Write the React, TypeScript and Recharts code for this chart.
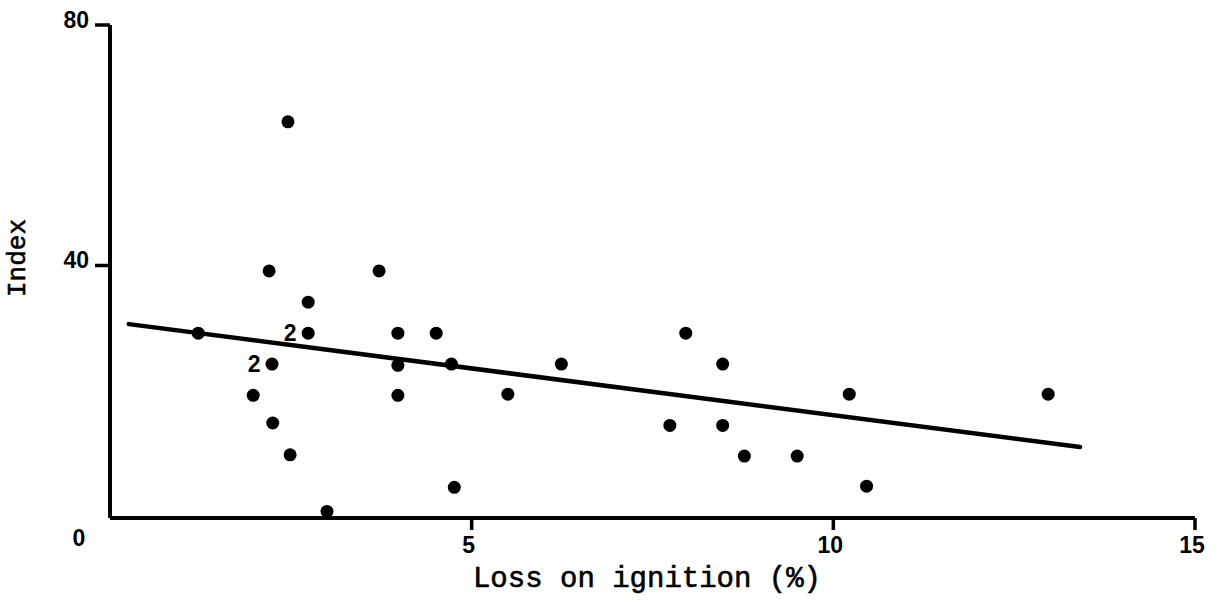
import React from 'react';
import { ScatterChart, Scatter, XAxis, YAxis, ReferenceLine, Label } from 'recharts';

// Loss on ignition (%) for each sample point
const lossOnIgnition = [
  1.22, 1.98, 2.2, 2.24, 2.25, 2.46, 2.49, 2.74, 2.74, 3.0, 3.72, 3.98, 3.98, 3.98,
  4.51, 4.72, 4.76, 5.5, 6.24, 7.74, 7.96, 8.47, 8.47, 8.77, 9.5, 10.22, 10.46, 12.97,
];
// Index value for each sample point
const indexValues = [
  28.75, 18.4, 39.1, 23.6, 13.8, 63.9, 8.5, 33.9, 28.75, -0.9, 39.1, 28.75, 23.4, 18.4,
  28.75, 23.6, 3.1, 18.6, 23.6, 13.4, 28.75, 23.6, 13.4, 8.3, 8.3, 18.6, 3.3, 18.6,
];
// Number of coincident samples at each point
const pointCounts = [
  1, 1, 1, 2, 1, 1, 1, 1, 2, 1, 1, 1, 1, 1,
  1, 1, 1, 1, 1, 1, 1, 1, 1, 1, 1, 1, 1, 1,
];
// Regression line end points
const trendX = [0.26, 13.41];
const trendY = [30.25, 9.8];

const xTicks = [0, 5, 10, 15];
const yTicks = [40, 80];

const points = lossOnIgnition.map((x, i) => ({ x, y: indexValues[i], n: pointCounts[i] }));

const tickFont = '"Liberation Sans", Arial, sans-serif';
const titleFont = '"Liberation Mono", "DejaVu Sans Mono", monospace';

const XTick = (props: any) => {
  const { x, y, payload } = props;
  if (payload.value === 0) {
    return (
      <text x={x - 31} y={y + 28} textAnchor="middle" fontFamily={tickFont} fontWeight="bold" fontSize={23} fill="#000">
        0
      </text>
    );
  }
  return (
    <g>
      <line x1={x} y1={y} x2={x} y2={y + 12} stroke="#000" strokeWidth={3.5} />
      <text x={x - 3} y={y + 35} textAnchor="middle" fontFamily={tickFont} fontWeight="bold" fontSize={23} fill="#000">
        {payload.value}
      </text>
    </g>
  );
};

const YTick = (props: any) => {
  const { x, y, payload } = props;
  return (
    <g>
      <line x1={x - 15} y1={y} x2={x} y2={y} stroke="#000" strokeWidth={3.5} />
      <text x={x - 21} y={y + 3} textAnchor="end" fontFamily={tickFont} fontWeight="bold" fontSize={23} fill="#000">
        {payload.value}
      </text>
    </g>
  );
};

const Dot = (props: any) => {
  const { cx, cy, payload } = props;
  return (
    <g>
      <circle cx={cx} cy={cy} r={6.5} fill="#000" />
      {payload.n > 1 && (
        <text x={cx - 18} y={cy + 8} textAnchor="middle" fontFamily={tickFont} fontWeight="bold" fontSize={23} fill="#000">
          {payload.n}
        </text>
      )}
    </g>
  );
};

export default function App() {
  return (
    <div style={{ position: 'absolute', left: 0, top: 0, width: 1221, height: 604 }}>
      <ScatterChart width={1221} height={604} margin={{ top: 25, right: 26, bottom: 0, left: 0 }}>
        <XAxis
          type="number"
          dataKey="x"
          domain={[0, 15]}
          ticks={xTicks}
          interval={0}
          height={86}
          tickLine={false}
          tickSize={0}
          tickMargin={0}
          tick={<XTick />}
          axisLine={{ stroke: '#000', strokeWidth: 4 }}
          allowDataOverflow
        >
          <Label
            content={() => (
              <text x={647} y={587} textAnchor="middle" fontFamily={titleFont} fontSize={29} fill="#000" stroke="#000" strokeWidth={0.6}>
                Loss on ignition (%)
              </text>
            )}
          />
        </XAxis>
        <YAxis
          type="number"
          dataKey="y"
          domain={[-2, 80]}
          ticks={yTicks}
          interval={0}
          width={110}
          tickLine={false}
          tickSize={0}
          tickMargin={0}
          tick={<YTick />}
          axisLine={{ stroke: '#000', strokeWidth: 4 }}
          allowDataOverflow
        >
          <Label
            content={() => (
              <text x={25} y={258} transform="rotate(-90, 25, 258)" textAnchor="middle" fontFamily={titleFont} fontSize={26} fill="#000" stroke="#000" strokeWidth={0.6}>
                Index
              </text>
            )}
          />
        </YAxis>
        <ReferenceLine
          segment={[
            { x: trendX[0], y: trendY[0] },
            { x: trendX[1], y: trendY[1] },
          ]}
          stroke="#000"
          strokeWidth={4.5}
          strokeLinecap="round"
        />
        <Scatter data={points} fill="#000" shape={<Dot />} isAnimationActive={false} />
      </ScatterChart>
    </div>
  );
}
